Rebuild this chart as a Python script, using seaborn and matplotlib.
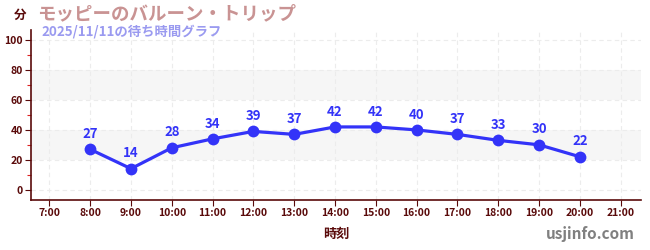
import matplotlib
matplotlib.use("Agg")
import matplotlib.pyplot as plt
import seaborn as sns
import pandas as pd

hours = [8, 9, 10, 11, 12, 13, 14, 15, 16, 17, 18, 19, 20]
waits = [27, 14, 28, 34, 39, 37, 42, 42, 40, 37, 33, 30, 22]
tick_hours = list(range(7, 22))
tick_labels = [f"{h}:00" for h in tick_hours]
title = "モッピーのバルーン・トリップ"
subtitle = "2025/11/11の待ち時間グラフ"

sns.set_theme(style="white")
plt.rcParams['font.family'] = ['Noto Sans CJK JP', 'DejaVu Sans']

df = pd.DataFrame({"hour": hours, "wait": waits})

fig = plt.figure(figsize=(6.5, 2.5), dpi=100)
ax = fig.add_axes([0.0477, 0.2, 0.9385, 0.68])

line_c = "#3333f8"
dark = "#5a0a0a"

for lo, hi in [(20, 40), (60, 80)]:
    ax.axhspan(lo, hi, color="#f6f6f6", zorder=0, lw=0)

sns.lineplot(data=df, x="hour", y="wait", ax=ax, color=line_c, lw=2.3,
             marker="o", markersize=8.5, markeredgewidth=0, zorder=3)

for h, w in zip(hours, waits):
    ax.annotate(str(w), (h, w), xytext=(0, 6), textcoords="offset points",
                ha="center", va="bottom", color=line_c, fontsize=9.5,
                fontweight="bold")

ax.set_xlim(6.55, 21.5)
ax.set_ylim(-7, 107)
ax.set_xticks(tick_hours)
ax.set_xticklabels(tick_labels)
ax.set_yticks(range(0, 101, 20))
ax.set_yticks(range(10, 100, 20), minor=True)
ax.grid(True, which="major", color="#ececec", ls=(0, (4, 3)), lw=0.8)
ax.tick_params(axis="both", which="major", labelsize=7.5, colors=dark,
               length=4, width=0.8, direction="out", pad=2)
ax.tick_params(axis="y", which="minor", length=3, width=0.8, color="#dd2222", left=True)
ax.tick_params(axis="x", which="major", bottom=True)
ax.tick_params(axis="y", which="major", left=True)
for lab in ax.get_xticklabels() + ax.get_yticklabels():
    lab.set_color(dark)
    lab.set_fontweight("bold")
for s in ["top", "right"]:
    ax.spines[s].set_visible(False)
for s in ["left", "bottom"]:
    ax.spines[s].set_color(dark)
    ax.spines[s].set_linewidth(1.2)
ax.set_xlabel("時刻", fontsize=9.5, fontweight="bold", color=dark, labelpad=6)
ax.set_ylabel("")

fig.text(20 / 650, 1 - 15 / 250, "分", fontsize=9, fontweight="bold",
         color=dark, ha="center", va="center")
fig.text(37 / 650, 1 - 14 / 250, title, fontsize=13.3, fontweight="bold",
         color="#c99393", ha="left", va="center")
fig.text(41 / 650, 1 - 32 / 250, subtitle, fontsize=9.6, fontweight="bold",
         color="#9a9af0", ha="left", va="center")
fig.text(635 / 650, 1 - 234 / 250, "usjinfo.com", fontsize=11, fontweight="bold",
         color="#808080", ha="right", va="center")

fig.savefig("out.png", dpi=100)
